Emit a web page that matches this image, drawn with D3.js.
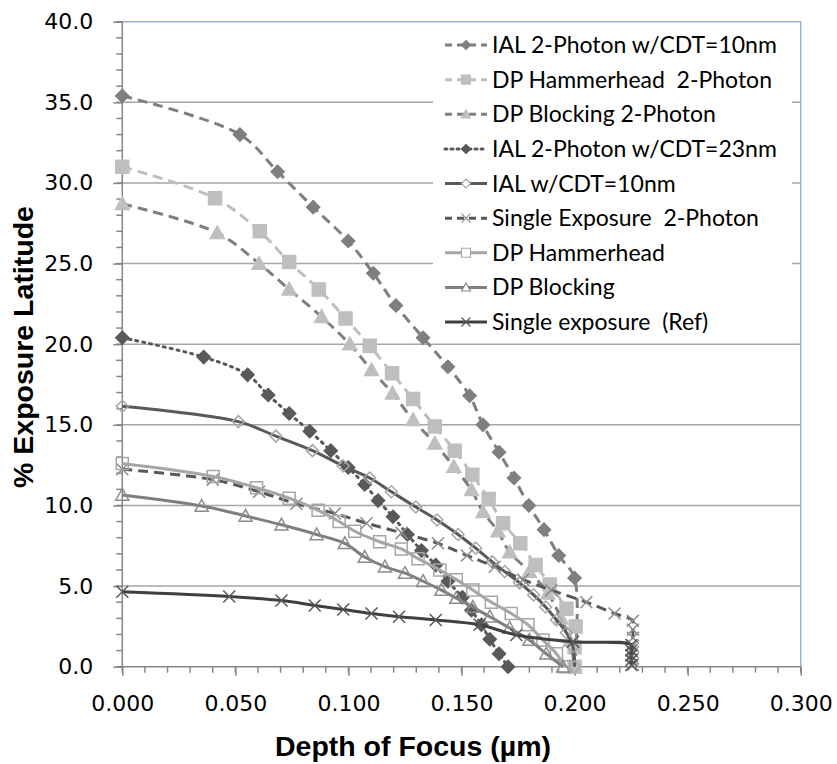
<!DOCTYPE html>
<html>
<head>
<meta charset="utf-8">
<script src="https://cdn.jsdelivr.net/npm/d3@7/dist/d3.min.js"></script>
<style>
  body { margin: 0; background: #fff; }
  svg { display: block; }
  text { white-space: pre; }
</style>
</head>
<body>
<svg id="chart" width="837" height="764"></svg>
<script>
// ---- data: [depth of focus (µm), % exposure latitude] ----
const seriesNames = [
  "IAL 2-Photon w/CDT=10nm",
  "DP Hammerhead  2-Photon",
  "DP Blocking 2-Photon",
  "IAL 2-Photon w/CDT=23nm",
  "IAL w/CDT=10nm",
  "Single Exposure  2-Photon",
  "DP Hammerhead",
  "DP Blocking",
  "Single exposure  (Ref)"
];

const ial2PhotonCdt10 = [
  [0.000, 35.4], [0.052, 33.0], [0.0687, 30.7], [0.0844, 28.5], [0.0999, 26.4],
  [0.111, 24.4], [0.121, 22.4], [0.133, 20.4], [0.144, 18.6], [0.1536, 16.8],
  [0.1595, 15.0], [0.1666, 13.3], [0.1732, 11.7], [0.1798, 10.0], [0.1865, 8.5],
  [0.193, 6.9], [0.200, 5.5], [0.200, 0.0]
];

const dpHammerhead2Photon = [
  [0.000, 31.0], [0.041, 29.05], [0.0608, 27.0], [0.0738, 25.1], [0.0869, 23.4],
  [0.0987, 21.6], [0.1094, 19.9], [0.1193, 18.2], [0.1286, 16.6], [0.1382, 14.9],
  [0.147, 13.4], [0.1548, 11.9], [0.162, 10.4], [0.1684, 8.9], [0.176, 7.65],
  [0.1828, 6.3], [0.189, 5.1], [0.1964, 3.6], [0.2005, 2.5], [0.200, 1.2], [0.200, 0.0]
];

const dpBlocking2Photon = [
  [0.000, 28.7], [0.042, 26.9], [0.0605, 25.0], [0.0738, 23.4], [0.0881, 21.7],
  [0.1006, 20.0], [0.1102, 18.4], [0.1195, 16.95], [0.1286, 15.3], [0.1382, 13.85],
  [0.1466, 12.4], [0.1544, 10.96], [0.1595, 9.6], [0.1661, 8.4], [0.1713, 7.1],
  [0.180, 5.9], [0.1882, 4.55], [0.194, 3.0], [0.198, 1.6], [0.200, 0.0]
];

const ial2PhotonCdt23 = [
  [0.000, 20.4], [0.036, 19.2], [0.0554, 18.1], [0.0645, 16.85], [0.0738, 15.7],
  [0.0829, 14.6], [0.0922, 13.4], [0.0999, 12.35], [0.1072, 11.3], [0.1131, 10.3],
  [0.1197, 9.3], [0.1261, 8.2], [0.1323, 7.2], [0.1386, 6.3], [0.144, 5.3],
  [0.1504, 4.3], [0.1544, 3.5], [0.1588, 2.6], [0.1625, 1.7], [0.1666, 0.8], [0.1706, 0.0]
];

const ialCdt10 = [
  [0.000, 16.15], [0.0513, 15.2], [0.0679, 14.3], [0.0841, 13.4], [0.0977, 12.45],
  [0.1094, 11.7], [0.119, 10.85], [0.1298, 9.9], [0.1392, 9.1], [0.1485, 8.2],
  [0.1563, 7.35], [0.1636, 6.5], [0.1691, 5.9], [0.1757, 5.2], [0.1819, 4.45],
  [0.1872, 3.7], [0.192, 2.9], [0.1964, 2.1], [0.1993, 1.25], [0.200, 0.0]
];

const singleExposure2Photon = [
  [0.000, 12.25], [0.040, 11.6], [0.0605, 10.85], [0.077, 10.1], [0.094, 9.5],
  [0.108, 8.9], [0.1235, 8.3], [0.1396, 7.65], [0.1524, 6.9], [0.1647, 6.2],
  [0.1772, 5.4], [0.1897, 4.75], [0.2052, 4.0], [0.2177, 3.3], [0.2258, 2.85],
  [0.2258, 2.3], [0.2258, 1.8], [0.2258, 1.3], [0.2258, 0.9], [0.2258, 0.5], [0.2258, 0.1]
];

const dpHammerhead = [
  [0.000, 12.6], [0.0402, 11.8], [0.0594, 11.1], [0.0738, 10.45], [0.0866, 9.7],
  [0.0959, 9.0], [0.1028, 8.4], [0.1138, 7.75], [0.1234, 7.3], [0.1308, 6.7],
  [0.1404, 6.0], [0.1477, 5.4], [0.155, 4.75], [0.1632, 4.0], [0.172, 3.3],
  [0.1794, 2.6], [0.186, 1.65], [0.192, 0.8], [0.1956, 0.0]
];

const dpBlocking = [
  [0.000, 10.65], [0.0351, 9.97], [0.0545, 9.35], [0.0704, 8.8], [0.0859, 8.2],
  [0.0984, 7.65], [0.1072, 6.8], [0.1161, 6.2], [0.125, 5.8], [0.133, 5.3],
  [0.1411, 4.75], [0.1477, 4.25], [0.155, 3.7], [0.1625, 3.1], [0.1713, 2.4],
  [0.180, 1.65], [0.1875, 0.8], [0.1949, 0.0]
];

const singleExposureRef = [
  [0.000, 4.65], [0.0473, 4.35], [0.0704, 4.1], [0.0851, 3.8], [0.0977, 3.55],
  [0.1102, 3.3], [0.1224, 3.1], [0.1386, 2.9], [0.158, 2.6], [0.1742, 1.97],
  [0.1993, 1.55], [0.2251, 1.35], [0.2251, 1.0], [0.2251, 0.7], [0.2251, 0.4], [0.2251, 0.1]
];

const xTickValues = [0, 0.05, 0.10, 0.15, 0.20, 0.25, 0.30];
const yTickValues = [0, 5, 10, 15, 20, 25, 30, 35, 40];
const xTitle = "Depth of Focus (\u00b5m)";
const yTitle = "% Exposure Latitude";

// ---- drawing styles, one per series (same order as the names) ----
const seriesData = [
  ial2PhotonCdt10, dpHammerhead2Photon, dpBlocking2Photon, ial2PhotonCdt23,
  ialCdt10, singleExposure2Photon, dpHammerhead, dpBlocking, singleExposureRef
];
const styles = [
  { line: "#7f7f7f", dash: "10,6", marker: "diamond", fill: "#7f7f7f", stroke: "#7f7f7f", size: 6.5 },
  { line: "#bfbfbf", dash: "10,6", marker: "square",  fill: "#bfbfbf", stroke: "#bfbfbf", size: 6.5 },
  { line: "#7f7f7f", dash: "10,6", marker: "triangle", fill: "#bfbfbf", stroke: "#bfbfbf", size: 7 },
  { line: "#595959", dash: "2,5",  marker: "diamond", fill: "#595959", stroke: "#595959", size: 6.5 },
  { line: "#595959", dash: null,   marker: "diamond", fill: "none",    stroke: "#a6a6a6", size: 6 },
  { line: "#595959", dash: "10,6", marker: "cross",   fill: "none",    stroke: "#8c8c8c", size: 6 },
  { line: "#a6a6a6", dash: null,   marker: "square",  fill: "none",    stroke: "#a6a6a6", size: 6 },
  { line: "#7f7f7f", dash: null,   marker: "triangle", fill: "none",   stroke: "#8c8c8c", size: 6.5 },
  { line: "#404040", dash: null,   marker: "cross",   fill: "none",    stroke: "#595959", size: 6 }
];

// ---- layout ----
const W = 837, H = 764;
const margin = { top: 21.7, right: 36.3, bottom: 97.3, left: 122.3 };
const pw = W - margin.left - margin.right;
const ph = H - margin.top - margin.bottom;

const svg = d3.select("#chart");
const g = svg.append("g").attr("transform", `translate(${margin.left},${margin.top})`);

const x = d3.scaleLinear().domain([0, 0.3]).range([0, pw]);
const y = d3.scaleLinear().domain([0, 40]).range([ph, 0]);

const axisColor = "#868686";
const tickFont = "'DejaVu Sans', Verdana, sans-serif";
const titleFont = "'Liberation Sans', Arial, sans-serif";

// horizontal gridlines
g.append("g").selectAll("line")
  .data(yTickValues.filter(v => v > 0 && v < 40))
  .join("line")
  .attr("x1", 0).attr("x2", pw)
  .attr("y1", d => y(d)).attr("y2", d => y(d))
  .attr("stroke", "#a6a6a6").attr("stroke-width", 1.5);

// plot-area border (top and right)
g.append("path")
  .attr("d", `M0,0H${pw}V${ph}`)
  .attr("fill", "none").attr("stroke", "#95b3d7").attr("stroke-width", 1.5);

// minor ticks
g.append("g").selectAll("line")
  .data(d3.range(0, 41, 1))
  .join("line")
  .attr("x1", -6).attr("x2", 0)
  .attr("y1", d => y(d)).attr("y2", d => y(d))
  .attr("stroke", axisColor).attr("stroke-width", 1.5);
g.append("g").selectAll("line")
  .data(d3.range(0, 31, 1).map(i => i / 100))
  .join("line")
  .attr("x1", d => x(d)).attr("x2", d => x(d))
  .attr("y1", ph).attr("y2", ph + 6)
  .attr("stroke", axisColor).attr("stroke-width", 1.5);

// axes
const yAxis = g.append("g")
  .call(d3.axisLeft(y).tickValues(yTickValues).tickFormat(d3.format(".1f")).tickSize(9).tickPadding(20));
const xAxis = g.append("g").attr("transform", `translate(0,${ph})`)
  .call(d3.axisBottom(x).tickValues(xTickValues).tickFormat(d3.format(".3f")).tickSize(9).tickPadding(20));
[xAxis, yAxis].forEach(a => {
  a.select(".domain").attr("stroke", axisColor).attr("stroke-width", 1.5);
  a.selectAll(".tick line").attr("stroke", axisColor).attr("stroke-width", 1.5);
  a.selectAll(".tick text").attr("fill", "#000").style("font-family", tickFont).style("font-size", "22px");
});
yAxis.select(".domain").attr("d", `M0,${ph}V0`);
xAxis.select(".domain").attr("d", `M0,0H${pw}`);

// axis titles
svg.append("text")
  .attr("x", 413).attr("y", 756)
  .attr("text-anchor", "middle")
  .style("font-family", titleFont)
  .style("font-weight", "bold").style("font-size", "28.5px")
  .text(xTitle);
svg.append("text")
  .attr("transform", "translate(33,347) rotate(-90)")
  .attr("text-anchor", "middle")
  .style("font-family", titleFont)
  .style("font-weight", "bold").style("font-size", "28.5px")
  .text(yTitle);

// marker shapes
function markerPath(type, r) {
  switch (type) {
    case "diamond": return `M0,${-r}L${r},0L0,${r}L${-r},0Z`;
    case "square": return `M${-r},${-r}H${r}V${r}H${-r}Z`;
    case "triangle": return `M0,${-r}L${r},${r * 0.8}H${-r}Z`;
    case "cross": return `M${-r},${-r}L${r},${r}M${r},${-r}L${-r},${r}`;
  }
}

const line = d3.line()
  .x(d => x(d[0])).y(d => y(d[1]))
  .curve(d3.curveCatmullRom.alpha(0.5));

const plot = g.append("g");
seriesData.forEach((pts, i) => {
  const s = styles[i];
  const sg = plot.append("g");
  sg.append("path")
    .datum(pts)
    .attr("d", line)
    .attr("fill", "none")
    .attr("stroke", s.line)
    .attr("stroke-width", 3)
    .attr("stroke-dasharray", s.dash)
    .attr("stroke-linecap", s.dash === "2,5" ? "round" : "butt");
  sg.selectAll("path.m")
    .data(pts)
    .join("path")
    .attr("class", "m")
    .attr("transform", d => `translate(${x(d[0])},${y(d[1])})`)
    .attr("d", markerPath(s.marker, s.size))
    .attr("fill", s.fill)
    .attr("stroke", s.stroke)
    .attr("stroke-width", 1.5);
});

// legend
const legend = svg.append("g");
legend.append("rect")
  .attr("x", 433).attr("y", 25).attr("width", 359).attr("height", 315)
  .attr("fill", "#fff");
const rowY = d3.scaleLinear().domain([0, 8]).range([45, 322]);
seriesNames.forEach((name, i) => {
  const s = styles[i];
  const yy = rowY(i);
  legend.append("line")
    .attr("x1", 445).attr("x2", 487).attr("y1", yy).attr("y2", yy)
    .attr("stroke", s.line).attr("stroke-width", 3)
    .attr("stroke-dasharray", s.dash === "2,5" ? "2,4" : (s.dash ? "7,5" : null))
    .attr("stroke-linecap", s.dash === "2,5" ? "round" : "butt");
  legend.append("path")
    .attr("transform", `translate(466,${yy})`)
    .attr("d", markerPath(s.marker, 4.5))
    .attr("fill", s.fill === "none" ? "#fff" : s.fill)
    .attr("stroke", s.stroke).attr("stroke-width", 1.2);
  legend.append("text")
    .attr("x", 492).attr("y", yy).attr("dy", "0.35em")
    .style("font-family", "Lato, 'Open Sans', sans-serif")
    .style("font-size", "23px")
    .attr("fill", "#000")
    .text(name);
});
</script>
</body>
</html>
